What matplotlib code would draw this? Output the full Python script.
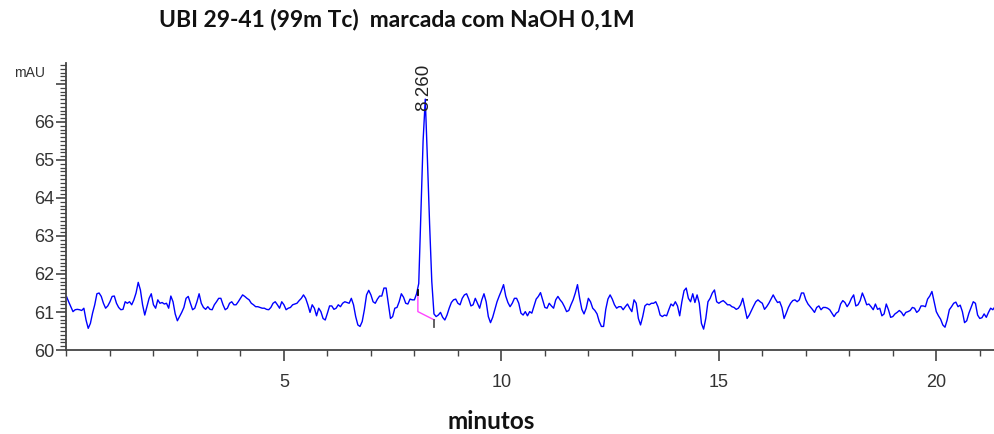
import numpy as np
import matplotlib
matplotlib.use("Agg")
from matplotlib import pyplot as plt
from matplotlib.ticker import MultipleLocator

sample_interval = 0.05
signal = [
    61.41, 61.27, 61.14, 61.01, 61.06, 61.07, 61.06, 61.04, 61.10, 60.79,
    60.57, 60.70, 60.97, 61.19, 61.48, 61.50, 61.41, 61.23, 61.10, 61.16,
    61.27, 61.41, 61.42, 61.23, 61.12, 61.06, 61.07, 61.27, 61.23, 61.27,
    61.19, 61.32, 61.50, 61.78, 61.58, 61.19, 60.92, 61.14, 61.36, 61.48,
    61.19, 61.10, 61.32, 61.23, 61.25, 61.21, 61.23, 61.10, 61.42, 61.27,
    60.95, 60.77, 60.88, 60.99, 61.12, 61.36, 61.41, 61.23, 61.06, 61.10,
    61.27, 61.48, 61.23, 61.12, 61.07, 61.14, 61.07, 61.06, 61.19, 61.27,
    61.36, 61.36, 61.19, 61.06, 61.10, 61.23, 61.27, 61.19, 61.19, 61.27,
    61.36, 61.45, 61.41, 61.36, 61.32, 61.23, 61.19, 61.14, 61.14, 61.12,
    61.10, 61.10, 61.07, 61.06, 61.12, 61.23, 61.27, 61.19, 61.10, 61.27,
    61.19, 61.06, 61.10, 61.12, 61.19, 61.21, 61.23, 61.30, 61.36, 61.45,
    61.36, 61.19, 60.99, 61.19, 61.10, 60.90, 61.10, 61.01, 60.83, 60.79,
    60.97, 61.16, 61.16, 61.07, 61.10, 61.19, 61.14, 61.23, 61.27, 61.25,
    61.23, 61.36, 61.19, 60.88, 60.66, 60.62, 60.75, 61.06, 61.45, 61.57,
    61.45, 61.27, 61.23, 61.34, 61.42, 61.42, 61.63, 61.63, 61.23, 60.83,
    60.88, 61.10, 61.12, 61.27, 61.48, 61.39, 61.23, 61.21, 61.34, 61.32,
    61.32, 61.48, 61.75, 63.60, 65.50, 66.60, 65.00, 63.30, 61.80, 60.95,
    60.88, 60.92, 60.99, 60.86, 60.79, 60.92, 61.10, 61.25, 61.32, 61.34,
    61.23, 61.19, 61.36, 61.45, 61.48, 61.34, 61.16, 61.19, 61.36, 61.23,
    61.10, 61.32, 61.48, 61.27, 60.88, 60.72, 60.86, 61.06, 61.27, 61.42,
    61.56, 61.72, 61.42, 61.25, 61.14, 61.23, 61.36, 61.36, 61.23, 60.97,
    60.92, 61.01, 60.90, 61.01, 60.97, 61.16, 61.34, 61.41, 61.51, 61.32,
    61.12, 61.10, 61.23, 61.16, 61.10, 61.32, 61.41, 61.32, 61.25, 61.14,
    61.01, 61.04, 61.19, 61.32, 61.50, 61.72, 61.36, 61.07, 60.95, 61.10,
    61.36, 61.27, 61.10, 61.04, 60.95, 60.75, 60.62, 60.62, 61.07, 61.34,
    61.45, 61.34, 61.19, 61.10, 61.14, 61.14, 61.06, 61.14, 61.21, 61.10,
    61.01, 61.32, 61.23, 60.83, 60.66, 60.88, 61.16, 61.21, 61.19, 61.23,
    61.23, 61.27, 61.14, 60.92, 60.88, 60.92, 60.90, 61.06, 61.21, 61.16,
    61.27, 61.16, 60.90, 61.27, 61.56, 61.63, 61.36, 61.27, 61.48, 61.25,
    61.45, 61.23, 60.70, 60.55, 60.83, 61.27, 61.36, 61.50, 61.58, 61.27,
    61.23, 61.27, 61.30, 61.25, 61.19, 61.19, 61.14, 61.12, 61.07, 61.10,
    61.19, 61.36, 61.10, 60.83, 60.92, 61.04, 61.16, 61.27, 61.32, 61.27,
    61.23, 61.07, 61.14, 61.23, 61.34, 61.45, 61.34, 61.25, 61.27, 61.12,
    60.83, 60.97, 61.12, 61.23, 61.30, 61.32, 61.27, 61.32, 61.50, 61.50,
    61.32, 61.21, 61.14, 61.07, 60.99, 61.12, 61.16, 61.06, 61.12, 61.12,
    61.10, 61.06, 60.97, 60.88, 60.97, 61.01, 61.21, 61.30, 61.25, 61.14,
    61.23, 61.36, 61.45, 61.16, 61.19, 61.30, 61.50, 61.36, 61.19, 61.21,
    61.14, 61.06, 61.21, 61.07, 61.10, 60.90, 60.95, 61.21, 61.06, 60.86,
    60.88, 60.95, 60.99, 61.04, 60.99, 60.90, 60.99, 61.01, 61.04, 61.12,
    61.10, 60.99, 61.04, 61.16, 61.16, 61.14, 61.34, 61.42, 61.54, 61.27,
    61.01, 60.90, 60.81, 60.66, 60.60, 60.79, 61.06, 61.14, 61.23, 61.26,
    61.14, 61.18, 61.01, 60.72, 60.77, 60.97, 61.12, 61.27, 61.23, 60.92,
    60.83, 60.85, 60.95, 60.86, 60.99, 61.10, 61.06, 61.14,
]
time = np.arange(len(signal)) * sample_interval

# pico integrado
peak_rt = 8.260
peak_start = (8.08, 61.45)
peak_drop = (8.08, 61.01)
peak_end = (8.46, 60.79)

x_max = 21.35
y_min, y_max = 60, 67.55

title = "UBI 29-41 (99m Tc)  marcada com NaOH 0,1M"
x_label = "minutos"
y_unit = "mAU"

fig = plt.figure(figsize=(9.95, 4.34), dpi=100)
ax = fig.add_axes([0.0668, 0.1935, 0.9332, 0.6613])

ax.plot(time, signal, color="#0000ff", lw=1.0, zorder=2)

# linha de base da integração
ax.plot([peak_start[0], peak_drop[0], peak_end[0]],
        [peak_start[1], peak_drop[1], peak_end[1]],
        color="#ff44ff", lw=1.0, zorder=3)
ax.plot([peak_start[0], peak_start[0]], [peak_start[1], peak_start[1] + 0.12],
        color="black", lw=1.3, zorder=4)
ax.plot([peak_end[0], peak_end[0]], [peak_end[1], peak_end[1] - 0.18],
        color="#555555", lw=1.3, zorder=4)

ax.text(peak_rt - 0.04, y_max - 0.03, f"{peak_rt:.3f}", rotation=90,
        ha="center", va="top", fontsize=13.5, color="#222222",
        family="Liberation Sans", zorder=5)

ax.set_xlim(0, x_max)
ax.set_ylim(y_min, y_max)

ax.xaxis.set_major_locator(MultipleLocator(5))
ax.xaxis.set_minor_locator(MultipleLocator(1))
ax.yaxis.set_major_locator(MultipleLocator(1))
ax.yaxis.set_minor_locator(MultipleLocator(0.1))

yticks = list(range(60, 68))
ax.set_yticks(yticks)
ax.set_yticklabels([str(v) if v < 67 else "" for v in yticks])
ax.set_xticks([5, 10, 15, 20])

for s in ["top", "right"]:
    ax.spines[s].set_visible(False)
for s in ["left", "bottom"]:
    ax.spines[s].set_color("#444444")
    ax.spines[s].set_linewidth(1.3)

ax.tick_params(axis="both", which="major", colors="#444444", labelcolor="#333333",
               labelsize=13, width=1.2)
ax.tick_params(axis="x", which="major", length=8, pad=9)
ax.tick_params(axis="x", which="minor", length=4, width=1.0, colors="#444444")
ax.tick_params(axis="y", which="major", length=7, pad=2)
ax.tick_params(axis="y", which="minor", length=4, width=0.9, colors="#444444")
for lab in ax.get_xticklabels() + ax.get_yticklabels():
    lab.set_family("Liberation Sans")

fig.text(0.030, 0.832, y_unit, ha="center", va="center", fontsize=10,
         color="#333333", family="Liberation Sans")
fig.text(0.399, 0.954, title, ha="center", va="center", fontsize=16.5,
         fontweight="bold", color="#111111", family="Lato")
fig.text(0.494, 0.028, x_label, ha="center", va="center", fontsize=17.5,
         fontweight="bold", color="#111111", family="Lato")

fig.savefig("out.png", dpi=100)
